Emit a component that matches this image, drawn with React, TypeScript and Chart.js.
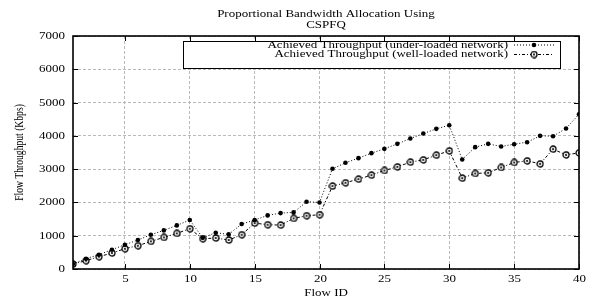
import React, { useEffect, useRef } from "react";
import { Chart, registerables } from "chart.js";

Chart.register(...registerables);

const flowIds: number[] = Array.from({ length: 40 }, (_, i) => i + 1);
const underLoaded: number[] = [
  150, 310, 430, 580, 730, 870, 1030, 1160, 1310, 1470,
  940, 1090, 1040, 1350, 1470, 1610, 1680, 1700, 2020, 2000,
  3010, 3190, 3330, 3480, 3610, 3760, 3920, 4070, 4210, 4320,
  3290, 3660, 3760, 3680, 3750, 3810, 4000, 3990, 4220, 4650,
];
const wellLoaded: number[] = [
  150, 250, 370, 480, 610, 700, 830, 950, 1070, 1210,
  910, 930, 870, 1030, 1380, 1330, 1320, 1520, 1600, 1630,
  2490, 2590, 2700, 2820, 2960, 3070, 3210, 3280, 3420, 3550,
  2730, 2870, 2890, 3050, 3200, 3250, 3160, 3600, 3430, 3490,
];
const xTicks: number[] = [5, 10, 15, 20, 25, 30, 35, 40];
const titleLines: string[] = ["Proportional Bandwidth Allocation Using", "CSPFQ"];
const xTitle = "Flow ID";
const yTitle = "Flow Throughput (Kbps)";
const seriesNames: string[] = [
  "Achieved Throughput (under-loaded network)",
  "Achieved Throughput (well-loaded network)",
];
const FONT = "'Liberation Serif', 'Times New Roman', serif";
const SQ = 0.74; // vertical squash of text glyphs

function makeDotCircle(): HTMLCanvasElement {
  const c = document.createElement("canvas");
  c.width = 8;
  c.height = 8;
  const g = c.getContext("2d")!;
  g.fillStyle = "#fff";
  g.beginPath();
  g.arc(4, 4, 3, 0, Math.PI * 2);
  g.fill();
  g.strokeStyle = "#000";
  g.lineWidth = 1.3;
  g.stroke();
  g.fillStyle = "#000";
  g.beginPath();
  g.arc(4, 4, 1.1, 0, Math.PI * 2);
  g.fill();
  return c;
}

function txt(
  ctx: CanvasRenderingContext2D,
  s: string,
  x: number,
  y: number,
  align: CanvasTextAlign,
  rotate = false
) {
  ctx.save();
  ctx.translate(x, y);
  if (rotate) {
    ctx.rotate(-Math.PI / 2);
    ctx.scale(SQ, 1);
  } else {
    ctx.scale(1, SQ);
  }
  ctx.font = `13px ${FONT}`;
  ctx.fillStyle = "#000";
  ctx.textAlign = align;
  ctx.textBaseline = "middle";
  ctx.fillText(s, 0, 0);
  ctx.restore();
}

export default function App() {
  const ref = useRef<HTMLCanvasElement | null>(null);

  useEffect(() => {
    document.body.style.margin = "0";
    const dotCircle = makeDotCircle();

    const decor = {
      id: "decor",
      afterDraw(chart: any) {
        const { ctx, chartArea } = chart;
        const { left, right, top, bottom } = chartArea;
        const xs = chart.scales.x;
        const ys = chart.scales.y;
        ctx.save();
        // inward tick marks and tick labels
        ctx.strokeStyle = "#000";
        ctx.lineWidth = 1;
        xs.ticks.forEach((t: any) => {
          const px = Math.round(xs.getPixelForValue(t.value)) + 0.5;
          ctx.beginPath();
          ctx.moveTo(px, bottom);
          ctx.lineTo(px, bottom - 5);
          ctx.moveTo(px, top);
          ctx.lineTo(px, top + 5);
          ctx.stroke();
          txt(ctx, String(t.value), px, bottom + 10, "center");
        });
        ys.ticks.forEach((t: any) => {
          const py = Math.round(ys.getPixelForValue(t.value)) + 0.5;
          ctx.beginPath();
          ctx.moveTo(left, py);
          ctx.lineTo(left + 5, py);
          ctx.moveTo(right, py);
          ctx.lineTo(right - 5, py);
          ctx.stroke();
          txt(ctx, String(t.value), left - 8, py, "right");
        });
        // frame
        ctx.lineWidth = 1.6;
        ctx.strokeRect(left, top, right - left, bottom - top);
        // titles
        const cx = (left + right) / 2;
        txt(ctx, titleLines[0], cx, 14, "center");
        txt(ctx, titleLines[1], cx, 25, "center");
        txt(ctx, xTitle, cx, 293, "center");
        txt(ctx, yTitle, 20, (top + bottom) / 2, "center", true);
        // legend
        const bx = left + 110;
        const bw = right - 19 - bx;
        const by = top + 5;
        const bh = 27;
        ctx.fillStyle = "#fff";
        ctx.fillRect(bx, by, bw, bh);
        ctx.strokeStyle = "#000";
        ctx.lineWidth = 1;
        ctx.strokeRect(bx + 0.5, by + 0.5, bw, bh);
        const textRight = right - 71;
        const lx0 = right - 65;
        const lx1 = right - 25;
        const rows = [by + 4, by + 13.5];
        const dashes = [[1, 2], [3, 2, 1, 2]];
        rows.forEach((y, i) => {
          txt(ctx, seriesNames[i], textRight, y, "right");
          ctx.strokeStyle = "#000";
          ctx.setLineDash(dashes[i]);
          ctx.beginPath();
          ctx.moveTo(lx0, y);
          ctx.lineTo(lx1, y);
          ctx.stroke();
          ctx.setLineDash([]);
          const px = (lx0 + lx1) / 2;
          if (i === 0) {
            ctx.fillStyle = "#000";
            ctx.beginPath();
            ctx.arc(px, y, 2.3, 0, Math.PI * 2);
            ctx.fill();
          } else {
            ctx.drawImage(dotCircle, px - 4, y - 4);
          }
        });
        ctx.restore();
      },
    };

    const chart = new Chart(ref.current!, {
      type: "line",
      data: {
        labels: flowIds,
        datasets: [
          {
            label: seriesNames[0],
            data: flowIds.map((x, i) => ({ x, y: underLoaded[i] })),
            borderColor: "#000",
            backgroundColor: "#000",
            borderWidth: 1,
            borderDash: [1, 2],
            pointRadius: 2.3,
            pointStyle: "circle",
            pointBorderWidth: 0,
            tension: 0,
          },
          {
            label: seriesNames[1],
            data: flowIds.map((x, i) => ({ x, y: wellLoaded[i] })),
            borderColor: "#000",
            backgroundColor: "#fff",
            borderWidth: 1,
            borderDash: [3, 2, 1, 2],
            pointStyle: dotCircle as any,
            pointRadius: 4,
            tension: 0,
          },
        ],
      },
      options: {
        animation: false,
        responsive: false,
        layout: { padding: { top: 36, right: 13, left: 0, bottom: 0 } },
        plugins: {
          legend: { display: false },
          title: { display: false },
          tooltip: { enabled: false },
        },
        scales: {
          x: {
            type: "linear",
            min: 1,
            max: 40,
            afterBuildTicks: (s: any) => {
              s.ticks = xTicks.map((v) => ({ value: v }));
            },
            afterFit: (s: any) => {
              s.height = 32;
            },
            grid: { color: "#a8a8a8", lineWidth: 0.8, drawTicks: false },
            border: { display: false, dash: [3, 2] },
            ticks: { display: false },
          },
          y: {
            min: 0,
            max: 7000,
            ticks: { display: false, stepSize: 1000 },
            afterFit: (s: any) => {
              s.width = 73;
            },
            grid: { color: "#a8a8a8", lineWidth: 0.8, drawTicks: false },
            border: { display: false, dash: [3, 2] },
          },
        },
      } as any,
      plugins: [decor],
    });

    return () => chart.destroy();
  }, []);

  return <canvas ref={ref} width={592} height={301} style={{ display: "block" }} />;
}
